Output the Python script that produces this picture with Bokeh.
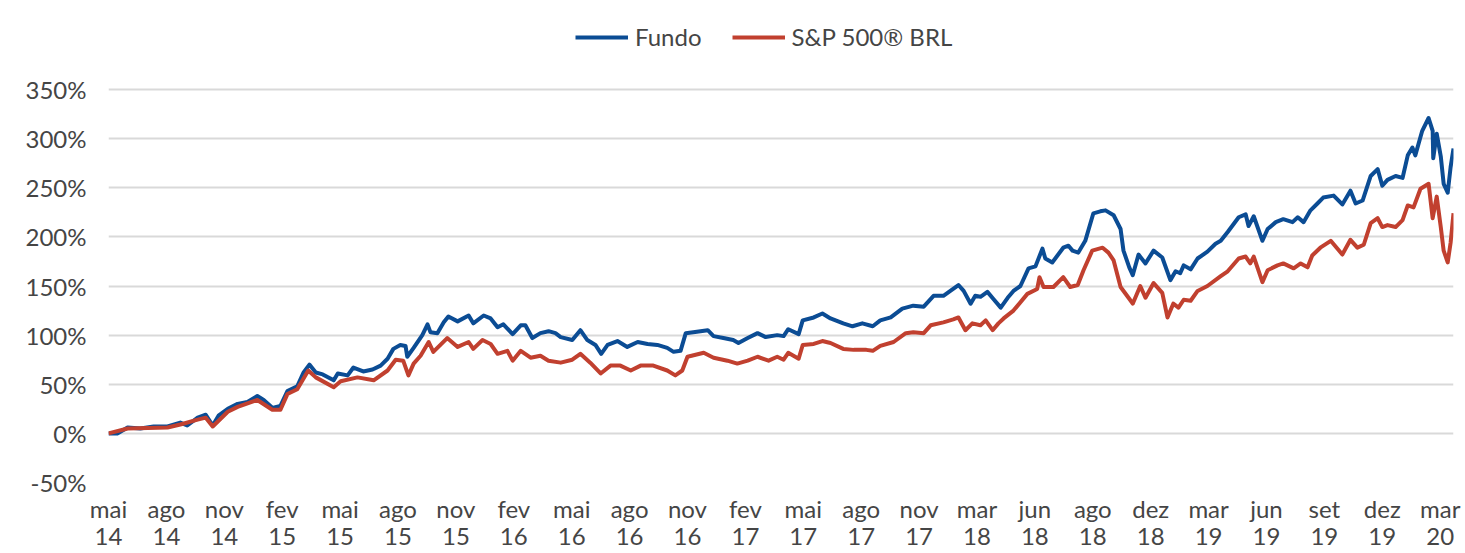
from bokeh.plotting import figure
from bokeh.models import (Range1d, FixedTicker, Legend, LegendItem, LinearAxis,
                          CustomJSTickFormatter)
from bokeh.embed import file_html
from bokeh.resources import INLINE

# ---- data (x = position along the quarterly label axis, y = cumulative return %) ----
months = ["mai", "ago", "nov", "fev", "mai", "ago", "nov", "fev", "mai", "ago", "nov", "fev",
          "mai", "ago", "nov", "mar", "jun", "ago", "dez", "mar", "jun", "set", "dez", "mar"]
years = ["14", "14", "14", "15", "15", "15", "15", "16", "16", "16", "16", "17",
         "17", "17", "17", "18", "18", "18", "18", "19", "19", "19", "19", "20"]

fundo_t = [0.00, 0.16, 0.33, 0.55, 0.78, 1.02, 1.24, 1.36, 1.54, 1.68, 1.80, 1.90, 2.06, 2.23,
           2.40, 2.57, 2.68, 2.83, 2.97, 3.09, 3.26, 3.37, 3.47, 3.58, 3.70, 3.89, 3.96, 4.13,
           4.23, 4.40, 4.56, 4.70, 4.82, 4.92, 5.04, 5.13, 5.16, 5.27, 5.42, 5.51, 5.56, 5.68,
           5.79, 5.87, 6.03, 6.22, 6.30, 6.48, 6.60, 6.72, 6.82, 6.98, 7.12, 7.20, 7.32, 7.46,
           7.60, 7.72, 7.81, 8.01, 8.15, 8.27, 8.41, 8.51, 8.62, 8.79, 8.96, 9.14, 9.31, 9.48,
           9.65, 9.76, 9.88, 9.97, 10.10, 10.35, 10.45, 10.62, 10.79, 10.88, 11.04, 11.21, 11.35,
           11.55, 11.66, 11.74, 11.92, 11.99, 12.18, 12.33, 12.47, 12.69, 12.85, 13.02, 13.20,
           13.33, 13.51, 13.71, 13.90, 14.08, 14.25, 14.42, 14.54, 14.68, 14.77, 14.89, 14.97,
           15.06, 15.18, 15.28, 15.41, 15.53, 15.63, 15.75, 15.89, 16.01, 16.13, 16.18, 16.30,
           16.39, 16.49, 16.58, 16.65, 16.75, 16.87, 17.01, 17.13, 17.22, 17.36, 17.48, 17.53,
           17.63, 17.69, 17.79, 17.91, 18.05, 18.20, 18.34, 18.43, 18.51, 18.57, 18.69, 18.81,
           18.98, 19.12, 19.21, 19.33, 19.52, 19.64, 19.69, 19.78, 19.93, 20.02, 20.16, 20.29,
           20.45, 20.54, 20.64, 20.76, 20.88, 20.98, 21.16, 21.31, 21.45, 21.54, 21.66, 21.80,
           21.92, 22.00, 22.09, 22.23, 22.35, 22.44, 22.52, 22.57, 22.69, 22.80, 22.87, 22.88,
           22.94, 23.01, 23.06, 23.13, 23.18, 23.23]
fundo_v = [0, 0, 6, 5, 7, 7, 11, 8, 16, 19, 8, 18, 25, 30,
           32, 38, 34, 26, 28, 43, 48, 62, 70, 62, 60, 54, 61, 59,
           67, 63, 65, 69, 76, 86, 90, 89, 78, 87, 100, 111, 103, 102,
           113, 119, 114, 120, 112, 120, 117, 108, 111, 101, 110, 110, 97, 102,
           104, 102, 98, 95, 105, 95, 90, 81, 90, 94, 88, 93, 91, 90,
           87, 83, 84, 102, 103, 105, 99, 97, 95, 92, 97, 102, 98,
           100, 99, 106, 101, 115, 118, 122, 117, 112, 109, 112, 109,
           115, 118, 127, 130, 129, 140, 140, 145, 151, 145, 132, 140,
           139, 144, 137, 128, 138, 145, 150, 168, 170, 188, 178, 174,
           181, 189, 191, 186, 184, 196, 224, 226, 227, 222, 208, 186,
           169, 161, 182, 173, 186, 179, 156, 165, 163, 171, 167, 178,
           185, 193, 196, 205, 220, 223, 211, 221, 196, 208, 215, 218,
           215, 220, 215, 227, 234, 240, 242, 233, 247, 234, 237, 262,
           269, 252, 258, 262, 260, 283, 291, 283, 308, 321, 308, 280,
           305, 282, 254, 245, 271, 290]

sp_t = [0.00, 0.33, 1.02, 1.24, 1.54, 1.68, 1.80, 2.06, 2.23, 2.57, 2.83, 2.97, 3.09, 3.26,
        3.45, 3.58, 3.89, 4.01, 4.30, 4.58, 4.82, 4.96, 5.09, 5.18, 5.27, 5.39, 5.53, 5.61,
        5.85, 6.03, 6.22, 6.30, 6.46, 6.60, 6.72, 6.89, 6.98, 7.12, 7.29, 7.46, 7.60, 7.81,
        8.01, 8.15, 8.32, 8.50, 8.67, 8.84, 9.02, 9.19, 9.41, 9.65, 9.79, 9.91, 10.00, 10.28,
        10.45, 10.69, 10.86, 11.04, 11.21, 11.40, 11.55, 11.66, 11.74, 11.92, 11.99, 12.18,
        12.33, 12.47, 12.69, 12.87, 13.09, 13.20, 13.33, 13.56, 13.77, 13.90, 14.08, 14.20,
        14.42, 14.59, 14.68, 14.80, 14.92, 15.06, 15.15, 15.27, 15.37, 15.46, 15.63, 15.87,
        16.04, 16.08, 16.15, 16.32, 16.49, 16.61, 16.74, 16.84, 16.99, 17.17, 17.27, 17.36,
        17.48, 17.63, 17.69, 17.82, 17.91, 18.05, 18.20, 18.29, 18.39, 18.48, 18.57, 18.69,
        18.81, 18.98, 19.21, 19.33, 19.52, 19.64, 19.72, 19.78, 19.93, 20.02, 20.19, 20.29,
        20.47, 20.59, 20.71, 20.79, 20.93, 21.11, 21.31, 21.45, 21.57, 21.68, 21.80, 21.92,
        22.00, 22.09, 22.23, 22.35, 22.44, 22.54, 22.66, 22.80, 22.87, 22.94, 23.01, 23.06,
        23.13, 23.18, 23.23]
sp_v = [0, 5, 6, 9, 14, 16, 7, 22, 27, 34, 24, 24, 40, 45,
        64, 57, 47, 53, 57, 54, 64, 75, 74, 59, 71, 79, 93, 83,
        97, 88, 93, 86, 95, 91, 81, 84, 74, 84, 77, 79, 74, 72,
        75, 81, 72, 61, 69, 69, 64, 69, 69, 64, 59, 64, 78, 82,
        77, 74, 71, 74, 78, 74, 78, 75, 82, 76, 90, 91,
        94, 92, 86, 85, 85, 84, 89, 93, 102, 103, 102, 110,
        113, 116, 118, 105, 112, 110, 115, 105, 112, 117, 125, 142,
        147, 159, 149, 149, 159, 149, 151, 166, 186, 189, 184, 176,
        149, 137, 132, 150, 138, 153, 143, 118, 132, 128, 136, 135,
        145, 150, 160, 165, 178, 180, 173, 180, 154, 166, 171, 173,
        168, 173, 169, 181, 189, 196, 182, 197, 189, 192, 214, 219,
        210, 212, 210, 217, 232, 230, 249, 254, 219, 241, 210, 186,
        174, 194, 224]

series_names = ["Fundo", "S&P 500® BRL"]
series_colors = ["#0B4C94", "#C1402F"]

y_ticks = [-50, 0, 50, 100, 150, 200, 250, 300, 350]

FONT = "Lato"
TEXT_COLOR = "#454545"

p = figure(frame_width=1345, frame_height=482, output_backend="svg", toolbar_location=None,
           x_range=Range1d(0, 23.23), y_range=Range1d(-50, 440.6),
           min_border_left=108, min_border_right=10, min_border_top=0, min_border_bottom=71,
           x_axis_location=None)
p.outline_line_color = None
p.background_fill_color = "white"
p.border_fill_color = "white"

tick_pos = list(range(len(months)))


def style_axis(ax):
    ax.axis_line_color = None
    ax.major_tick_line_color = None
    ax.minor_tick_line_color = None
    ax.major_tick_out = 0
    ax.major_tick_in = 0
    ax.minor_tick_out = 0
    ax.minor_tick_in = 0
    ax.major_label_text_font = FONT
    ax.major_label_text_font_size = "24px"
    ax.major_label_text_color = TEXT_COLOR


month_axis = LinearAxis(ticker=FixedTicker(ticks=tick_pos),
                        major_label_overrides={i: m for i, m in enumerate(months)},
                        major_label_standoff=11)
year_axis = LinearAxis(ticker=FixedTicker(ticks=tick_pos),
                       major_label_overrides={i: y for i, y in enumerate(years)},
                       major_label_standoff=2)
style_axis(month_axis)
style_axis(year_axis)
p.add_layout(month_axis, "below")
p.add_layout(year_axis, "below")

p.yaxis.ticker = FixedTicker(ticks=y_ticks)
p.yaxis.formatter = CustomJSTickFormatter(code="return tick.toFixed(0) + '%';")
style_axis(p.yaxis[0])
p.yaxis.major_label_standoff = 22

p.xgrid.grid_line_color = None
p.ygrid.ticker = FixedTicker(ticks=y_ticks)
p.ygrid.grid_line_color = "#D9D9D9"
p.ygrid.grid_line_width = 2

r1 = p.line(x=fundo_t, y=fundo_v, line_color=series_colors[0], line_width=4, line_join="round")
r2 = p.line(x=sp_t, y=sp_v, line_color=series_colors[1], line_width=4, line_join="round")

legend = Legend(items=[LegendItem(label=series_names[0], renderers=[r1]),
                       LegendItem(label=series_names[1], renderers=[r2])],
                orientation="horizontal", location=(467, 431),
                padding=0, margin=0, spacing=30, glyph_width=53, glyph_height=24,
                label_standoff=7, label_text_font=FONT, label_text_font_size="24px",
                label_text_color=TEXT_COLOR, background_fill_alpha=0, border_line_color=None)
p.add_layout(legend)

open("out.html", "w").write(file_html(p, INLINE))
